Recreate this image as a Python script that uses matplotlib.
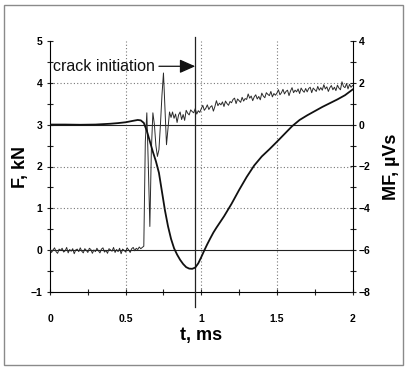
"""
Force and magnetic-flux traces of the impact test, with the moment of
crack initiation marked.
"""

import numpy as np
import matplotlib
matplotlib.use('Agg')
import matplotlib.pyplot as plt
from matplotlib.ticker import MultipleLocator
from matplotlib.patches import Rectangle

plt.rcParams['font.family'] = ['Liberation Sans', 'DejaVu Sans']
plt.rcParams['font.weight'] = 'bold'

# ── Force trace (kN), sampled every 0.01 ms ───────────────────────────────
FORCE_KN = [
    # 0.00 – 0.61 : before contact
    0.02, -0.05, 0.01, 0.06, -0.03, -0.07, 0.03, 0.00, 0.05, -0.04,
    -0.01, 0.07, -0.06, 0.02, -0.02, 0.04, -0.08, 0.01, 0.03, -0.03,
    0.06, -0.02, -0.06, 0.04, 0.00, -0.05, 0.05, 0.02, -0.07, 0.01,
    -0.03, 0.05, -0.01, -0.06, 0.03, 0.06, -0.04, 0.00, -0.07, 0.04,
    0.01, -0.02, 0.07, -0.05, 0.02, -0.03, 0.05, -0.08, 0.03, 0.00,
    -0.04, 0.06, 0.01, -0.05, 0.04, 0.07, -0.01, 0.05, 0.02, 0.08,
    0.04, 0.07,
    # 0.62 – 0.79 : impact oscillation
    0.10, 2.60, 3.28, 2.00, 0.57, 2.40, 3.28, 3.00, 2.50, 2.24,
    2.40, 3.00, 3.70, 4.23, 3.40, 2.52, 2.90, 3.30,
    # 0.80 – 2.00
    3.17, 3.30, 3.15, 3.25, 3.05, 3.23, 3.30, 3.12, 3.24, 3.10,
    3.34, 3.27, 3.23, 3.35, 3.31, 3.28, 3.38, 3.25, 3.33, 3.29,
    3.38, 3.46, 3.34, 3.39, 3.47, 3.36, 3.42, 3.45, 3.32, 3.43,
    3.57, 3.45, 3.51, 3.47, 3.54, 3.43, 3.56, 3.50, 3.46, 3.55,
    3.52, 3.60, 3.63, 3.50, 3.61, 3.57, 3.53, 3.65, 3.56, 3.62,
    3.60, 3.73, 3.63, 3.68, 3.57, 3.66, 3.71, 3.61, 3.67, 3.59,
    3.75, 3.68, 3.64, 3.76, 3.72, 3.69, 3.79, 3.66, 3.74, 3.70,
    3.75, 3.83, 3.71, 3.76, 3.84, 3.73, 3.79, 3.82, 3.69, 3.80,
    3.88, 3.76, 3.82, 3.78, 3.85, 3.74, 3.87, 3.81, 3.77, 3.86,
    3.78, 3.86, 3.89, 3.76, 3.87, 3.83, 3.79, 3.91, 3.82, 3.88,
    3.82, 3.95, 3.85, 3.90, 3.79, 3.88, 3.93, 3.83, 3.89, 3.81,
    3.94, 3.87, 3.83, 4.02, 3.91, 3.88, 3.98, 3.85, 3.96, 3.89,
    3.93,
]
FORCE_T = np.round(np.arange(len(FORCE_KN)) * 0.01, 2)

# ── Magnetic flux (µVs) ───────────────────────────────────────────────────
MF_T = [0.00, 0.10, 0.20, 0.30, 0.40, 0.45, 0.50, 0.55, 0.58, 0.60,
        0.62, 0.64, 0.66, 0.68, 0.70, 0.72, 0.74, 0.76, 0.78, 0.80,
        0.82, 0.84, 0.86, 0.88, 0.90, 0.92, 0.94, 0.96, 0.98, 1.00,
        1.02, 1.04, 1.06, 1.08, 1.10, 1.15, 1.20, 1.25, 1.30, 1.35,
        1.40, 1.45, 1.50, 1.55, 1.60, 1.65, 1.70, 1.75, 1.80, 1.85,
        1.90, 1.95, 2.00]
MF_UVS = [0.00, 0.00, -0.01, 0.00, 0.04, 0.07, 0.11, 0.18, 0.22, 0.20,
          0.08, -0.30, -0.80, -1.30, -1.75, -2.30, -3.20, -4.10, -4.85, -5.45,
          -5.90, -6.20, -6.45, -6.65, -6.80, -6.87, -6.88, -6.82, -6.62, -6.32,
          -6.00, -5.70, -5.42, -5.15, -4.92, -4.38, -3.78, -3.12, -2.50, -1.95,
          -1.52, -1.18, -0.82, -0.45, -0.08, 0.22, 0.44, 0.64, 0.84, 1.02,
          1.20, 1.40, 1.67]

CRACK_T = 0.96   # ms

fig = plt.figure(figsize=(4.05, 3.70), dpi=100)
fig.patches.append(Rectangle((4 / 405, 5 / 370), 399 / 405, 360 / 370,
                             transform=fig.transFigure, fill=False,
                             edgecolor='#8a8a8a', lw=1.0))

ax = fig.add_axes([0.1235, 0.21, 0.747, 0.68])
ax2 = ax.twinx()

# grid and reference lines
for gx in (0.5, 1.0, 1.5):
    ax.axvline(gx, color='#777777', lw=0.8, ls=(0, (1, 2)), zorder=1)
for gy in (1, 2, 4):
    ax.axhline(gy, color='#777777', lw=0.8, ls=(0, (1, 2)), zorder=1)
ax.axhline(0, color='#222222', lw=0.8, zorder=1)
ax.axhline(3, color='#222222', lw=0.8, zorder=1)

ax.plot(FORCE_T, FORCE_KN, color='#2a2a2a', lw=0.7, zorder=3)
ax2.plot(MF_T, MF_UVS, color='#111111', lw=1.3, zorder=3)

# crack initiation marker
ax.plot([CRACK_T, CRACK_T], [-1.34, 5.1], color='#222222', lw=0.9,
        clip_on=False, zorder=4)
ax.annotate('', xy=(CRACK_T, 4.39), xytext=(0.72, 4.39),
            arrowprops=dict(arrowstyle='-|>,head_length=0.95,head_width=0.42',
                            mutation_scale=10, color='#111111', lw=0.9,
                            shrinkA=0, shrinkB=0))
ax.text(0.02, 4.39, 'crack initiation', fontsize=11.5, fontweight='normal',
        ha='left', va='center', color='#111111')

ax.set_xlim(0, 2)
ax.set_ylim(-1, 5)
ax2.set_ylim(-8, 4)

ax.xaxis.set_major_locator(MultipleLocator(0.5))
ax.xaxis.set_minor_locator(MultipleLocator(0.25))
ax.yaxis.set_major_locator(MultipleLocator(1))
ax.yaxis.set_minor_locator(MultipleLocator(0.5))
ax2.yaxis.set_major_locator(MultipleLocator(2))
ax2.yaxis.set_minor_locator(MultipleLocator(1))
ax.xaxis.set_major_formatter(plt.FuncFormatter(lambda v, p: f'{v:g}'))

for a in (ax, ax2):
    a.tick_params(which='both', direction='inout', length=5, width=0.8,
                  labelsize=7.5, color='#222222')
ax.tick_params(axis='x', pad=13)
ax.tick_params(axis='y', pad=3)
ax2.tick_params(axis='y', pad=2)

ax.spines['top'].set_visible(False)
ax.spines['right'].set_visible(False)
for s in ('top', 'left', 'bottom'):
    ax2.spines[s].set_visible(False)
for s in ax.spines.values():
    s.set_linewidth(0.8)
ax2.spines['right'].set_linewidth(0.8)

ax.set_xlabel('t, ms', fontsize=13, fontweight='bold', labelpad=2)
ax.set_ylabel('F, kN', fontsize=13, fontweight='bold', labelpad=1)
ax2.set_ylabel('MF, µVs', fontsize=13, fontweight='bold', labelpad=9)

fig.savefig('out.png', dpi=100)
